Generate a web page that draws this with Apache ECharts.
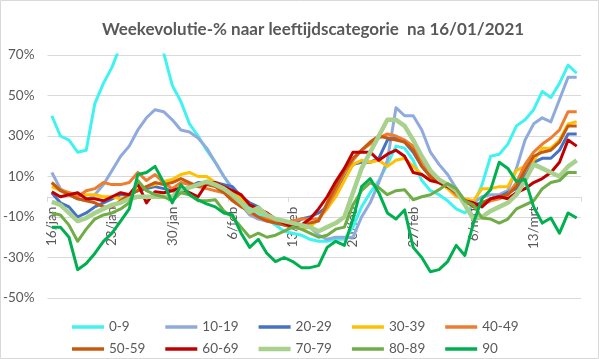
<!DOCTYPE html>
<html>
<head>
<meta charset="utf-8">
<script src="https://cdn.jsdelivr.net/npm/echarts@6/dist/echarts.min.js"></script>
<style>
html,body{margin:0;padding:0;background:#fff;}
#c{width:599px;height:359px;}
</style>
</head>
<body>
<div id="c"></div>
<script>
const categories = [
 '16/jan','17/jan','18/jan','19/jan','20/jan','21/jan','22/jan','23/jan','24/jan','25/jan','26/jan','27/jan','28/jan','29/jan','30/jan','31/jan',
 '1/feb','2/feb','3/feb','4/feb','5/feb','6/feb','7/feb','8/feb','9/feb','10/feb','11/feb','12/feb','13/feb','14/feb','15/feb','16/feb','17/feb','18/feb','19/feb','20/feb','21/feb','22/feb','23/feb','24/feb','25/feb','26/feb','27/feb','28/feb',
 '1/mrt','2/mrt','3/mrt','4/mrt','5/mrt','6/mrt','7/mrt','8/mrt','9/mrt','10/mrt','11/mrt','12/mrt','13/mrt','14/mrt','15/mrt','16/mrt','17/mrt','18/mrt'
];
const seriesNames = ['0-9','10-19','20-29','30-39','40-49','50-59','60-69','70-79','80-89','90'];
const s09 = [40,30,28,22,23,46,56,64,75,85,90,88,80,71,55,47,36,30,23,17,10,4,-1.5,-5,-8,-11,-14,-17,-18,-19,-21,-22,-22,-21,-21,-15,-5,2,8,16,25,24,18,8,3,1,-2,-6,-8,-4,6,20,21,26,35,38,43,52,49,56,65,61];
const s1019 = [12,4,1,-1,-2,1,6,13,20,25,33,39,43,42,38,33,32,29,24,17,10,4,-4,-9,-11,-12,-13,-14,-15,-14,-15,-19,-21,-20,-20,-20,-10,-3,7,18,44,40,40,33,22,16,11,4,-2,-3,0,1,1,3,14,28,36,39,37,48,59,59];
const s2029 = [2,-3,-5,-10,-8,-5,-3,-1,1,1,3,4,5,4,3,2,5,7,7,7,6,5,0,-3,-5,-9,-12,-13,-14,-11,-10,-8,-5,2,9,16,17,17,19,28,29,27,22,15,10,7,5,1,-2,-4,-3,-1,0,2,4,10,17,19,19,23,31,31];
const s3039 = [5,3,2,1,1,1,0,0,-1,0,4,5,6,7.5,8.5,11,12,10,10,7,5,2,-1,-4,-7,-9,-11,-13,-15,-16,-15,-11,-6,0,8,16,18,17,18,15,18,19,15,11,8,7,4,0,-1,-2,4,4,5,5,13,15,18,24,24,28,36,37];
const s4049 = [7,3.5,2,0,3,4,7,6,6,7,12,8,11,7,4,7,6,5,4,3,2,-1,-4,-8,-10,-11,-12,-13,-12,-11,-11,-11,-5,3,12,18,23,26,29,31,30,28,25,18,11,8,5,1,-2,-5,-4,-2,-1,1,7,16,22,26,29,33,42,42];
const s5059 = [7,3,1,-1,-2,-3,-5,-5,-2,1,3,5,7,6,7,9,7,5,6,5,2,-2,-5,-7,-10,-12,-13,-14,-15,-14,-13,-12,-3,5,13,19,23,27,30,29,28,27,23,15,10,7,5,2,-2,-5,-3,-1,0,1,5,13,20,22,23,27,35,35];
const s6069 = [2.5,0,1,2,-1,-1,-2,0,2,1,6.5,-3,2.5,2,3,4.5,2,0,6.5,7,5,3,1,-4,-6,-8,-11,-13,-15,-14,-11,-6,0,7.5,14,22,22,22,18,21,23,20,12,11,8,7,5,3,-2,-3,-5,-1,0,-1,2,4,7,9,12,17,28,25];
const s7079 = [-2.5,-4,-8,-12,-10.5,-8,-6,-4,-3,-1,0,0,0,0,0,3.5,4.5,6,7.5,6,4,1,-3,-7.5,-5.5,-9,-11,-12,-13,-14,-15,-17,-15,-13,-10,2,14,22,30,38,38,35,28,20,13,8.5,6,3,-4,-11,-10,-7,-5,-3,1,8,16,14,12,10,15,18];
const s8089 = [-8,-9,-14,-22,-16,-11,-9,-8,-6,-3,8,3,1,0,-2,2,1,-2,-2,-1.5,-7,-10,-15,-20,-18,-20,-19,-17,-15,-16,-18,-20,-19,-16,-15,-4,3,7,4.5,1,3,3.5,-1.5,0,1,3.5,6.5,4,-2,-4,-10.5,-11,-13,-11,-6,-4,-2,4,7,8,12,12];
const s90 = [-15,-15,-20,-36,-33,-28,-22,-18,-12,-6,11,12,15,7,-3,6,1,-1.5,-3.5,-5,-8,-9,-18,-25,-21,-28,-32,-30,-32,-35,-35,-34,-25,-22,-24,-11,5,9,2,-8,-11,-6.5,-25,-30,-37,-36,-32,-24,-29,-13,-1,3.5,17,14,7.5,8.5,-5,-13,-10.5,-18,-8,-10.5];
const yTicks = {min:-50, max:70, step:20};

const allData = [s09,s1019,s2029,s3039,s4049,s5059,s6069,s7079,s8089,s90];
const colors = ['#3FF3F0','#8FAADC','#4472C4','#FFC000','#ED7D31','#C55A11','#C00000','#A9D18E','#70AD47','#00B050'];
const widths = [3,3,3,3,3,3,3,4.5,3,3];

const txt = '#595959';
const font = 'Lato';
const gridTop = 55, gridBottomPx = 298;
// place the category axis on the 0% line (axis offset from the bottom edge)
const zeroOffset = -(gridBottomPx - gridTop) * (0 - yTicks.min) / (yTicks.max - yTicks.min);

const legends = seriesNames.map((n,i)=>({
  data:[n],
  left: 72 + 93.3*(i%5),
  top: i<5 ? 320 : 342,
  padding:0,
  itemWidth:32, itemHeight: (i===7?4.5:3.5),
  icon:'rect',
  selectedMode:false,
  textStyle:{color:txt,fontSize:13.5,fontFamily:font}
}));

const chart = echarts.init(document.getElementById('c'), null, {renderer:'canvas'});
chart.setOption({
  animation:false,
  backgroundColor:'#fff',
  textStyle:{fontFamily:font},
  title:{
    text:'Weekevolutie-% naar leeftijdscategorie  na 16/01/2021',
    left:308, top:16, textAlign:'center',
    textStyle:{color:txt,fontSize:17,fontWeight:'bold',fontFamily:font}
  },
  legend: legends,
  grid:{left:47,right:18,top:gridTop,bottom:359-gridBottomPx,containLabel:false},
  xAxis:{
    type:'category',
    data:categories,
    boundaryGap:true,
    offset: zeroOffset,
    axisLine:{show:true,onZero:false,lineStyle:{color:'#D9D9D9',width:1}},
    axisTick:{show:true,alignWithLabel:false,length:5,lineStyle:{color:'#D9D9D9'}},
    axisLabel:{rotate:90,interval:6,margin:10,color:txt,fontSize:13.5,fontFamily:font},
    splitLine:{show:false}
  },
  yAxis:{
    type:'value',
    min:yTicks.min,max:yTicks.max,interval:yTicks.step,
    axisLine:{show:false},axisTick:{show:false},
    axisLabel:{formatter:'{value}%',color:txt,fontSize:13.5,margin:13,fontFamily:font},
    splitLine:{lineStyle:{color:'#D9D9D9',width:1}}
  },
  graphic:[{type:'rect',shape:{x:0.5,y:0.5,width:598,height:358},style:{fill:'none',stroke:'#D9D9D9',lineWidth:1},silent:true,z:-1}],
  series: seriesNames.map((n,i)=>({
    name:n, type:'line', data:allData[i],
    showSymbol:false, symbol:'none', smooth:false,
    color:colors[i],
    itemStyle:{color:colors[i]},
    lineStyle:{color:colors[i],width:widths[i],join:'round'},
    emphasis:{disabled:true}
  }))
});
</script>
</body>
</html>
